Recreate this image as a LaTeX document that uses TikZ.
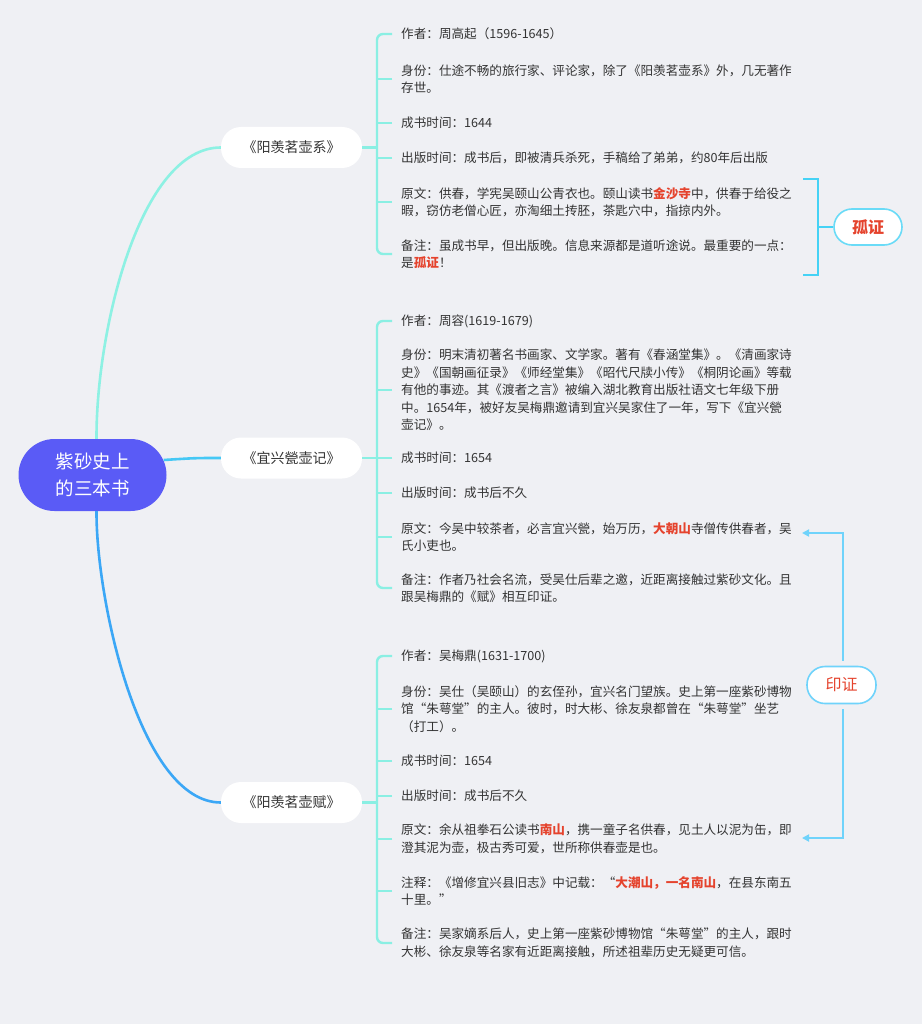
\documentclass[tikz,border=0pt]{standalone}
\usepackage{fontspec}
\setmainfont{Noto Sans CJK SC}
\usetikzlibrary{arrows.meta}
\definecolor{bgc}{HTML}{EFF0F4}
\definecolor{txtc}{HTML}{333333}
\definecolor{ctrc}{HTML}{5A5BF6}
\definecolor{topc}{HTML}{8DF1E3}
\definecolor{midc}{HTML}{45C8F5}
\definecolor{botc}{HTML}{3BA7F6}
\definecolor{brkc}{HTML}{8AEFE3}
\definecolor{gzc}{HTML}{45D2F5}
\definecolor{yzc}{HTML}{6FD3FB}
\definecolor{redc}{HTML}{E5432D}
\newcommand\redb[1]{\textcolor{redc}{\bfseries #1}}
\begin{document}
\begin{tikzpicture}[x=1pt,y=-1pt,
  txt/.style={anchor=west,align=left,inner sep=0pt,text=txtc,font=\fontsize{12.6}{17.5}\selectfont},
  book/.style={fill=white,rounded corners=20pt,minimum width=141pt,minimum height=41pt,inner sep=0pt,text=txtc,font=\fontsize{14}{16}\selectfont},
  brk/.style={draw=brkc,line width=2.4pt,rounded corners=6pt},
  tag/.style={fill=white,rounded corners=18pt,minimum width=68pt,minimum height=36pt,inner sep=0pt,line width=1.6pt},
  arr/.style={draw=yzc,line width=2.2pt,-{Triangle[length=7pt,width=7pt]}}
]
\useasboundingbox[fill=bgc] (0,0) rectangle (922,1024);

% central node
\node[fill=ctrc,rounded corners=36pt,minimum width=148pt,minimum height=72pt,inner sep=0pt,
  text=white,align=center,font=\fontsize{18.5}{27}\selectfont] (ctr) at (92.5,475) {紫砂史上\\的三本书};

% book nodes
\node[book] (b1) at (291.5,147.5) {《阳羡茗壶系》};
\node[book] (b2) at (291.5,458) {《宜兴甇壶记》};
\node[book] (b3) at (291.5,802.5) {《阳羡茗壶赋》};

% main branches
\draw[draw=topc,line width=2.6pt] ([xshift=4pt]ctr.north) .. controls (96,330) and (140,147.5) .. (b1.west);
\draw[draw=midc,line width=2.6pt] ([shift={(-3pt,15pt)}]ctr.east) .. controls (195,458) .. (b2.west);
\draw[draw=botc,line width=2.6pt] ([xshift=4pt]ctr.south) .. controls (96,600) and (140,802.5) .. (b3.west);

% group 1
\node[txt] (g1a) at (401,34) {作者：周高起（1596-1645）};
\node[txt] (g1b) at (401,79) {身份：仕途不畅的旅行家、评论家，除了《阳羡茗壶系》外，几无著作\\存世。};
\node[txt] (g1c) at (401,123) {成书时间：1644};
\node[txt] (g1d) at (401,158) {出版时间：成书后，即被清兵杀死，手稿给了弟弟，约80年后出版};
\node[txt] (g1e) at (401,202) {原文：供春，学宪吴颐山公青衣也。颐山读书\redb{金沙寺}中，供春于给役之\\暇，窃仿老僧心匠，亦淘细土抟胚，茶匙穴中，指掠内外。};
\node[txt] (g1f) at (401,254) {备注：虽成书早，但出版晚。信息来源都是道听途说。最重要的一点：\\是\redb{孤证}！};
\draw[brk] ([xshift=-9pt]g1a.west) -- ++(-15pt,0) |- ([xshift=-9pt]g1f.west);
\foreach \n in {g1b,g1c,g1d,g1e} \draw[brk] ([xshift=-9pt]\n.west) -- ++(-16pt,0);
\draw[brk] (b1.east) -- (377,147.5);

% group 2
\node[txt] (g2a) at (401,321) {作者：周容(1619-1679)};
\node[txt] (g2b) at (401,390) {身份：明末清初著名书画家、文学家。著有《春涵堂集》。《清画家诗\\史》《国朝画征录》《师经堂集》《昭代尺牍小传》《桐阴论画》等载\\有他的事迹。其《渡者之言》被编入湖北教育出版社语文七年级下册\\中。1654年，被好友吴梅鼎邀请到宜兴吴家住了一年，写下《宜兴甇\\壶记》。};
\node[txt] (g2c) at (401,458) {成书时间：1654};
\node[txt] (g2d) at (401,493) {出版时间：成书后不久};
\node[txt] (g2e) at (401,537) {原文：今吴中较茶者，必言宜兴甇，始万历，\redb{大朝山}寺僧传供春者，吴\\氏小吏也。};
\node[txt] (g2f) at (401,588) {备注：作者乃社会名流，受吴仕后辈之邀，近距离接触过紫砂文化。且\\跟吴梅鼎的《赋》相互印证。};
\draw[brk] ([xshift=-9pt]g2a.west) -- ++(-15pt,0) |- ([xshift=-9pt]g2f.west);
\foreach \n in {g2b,g2c,g2d,g2e} \draw[brk] ([xshift=-9pt]\n.west) -- ++(-16pt,0);
\draw[brk] (b2.east) -- (377,458);

% group 3
\node[txt] (g3a) at (401,656) {作者：吴梅鼎(1631-1700)};
\node[txt] (g3b) at (401,709) {身份：吴仕（吴颐山）的玄侄孙，宜兴名门望族。史上第一座紫砂博物\\馆“朱萼堂”的主人。彼时，时大彬、徐友泉都曾在“朱萼堂”坐艺\\（打工）。};
\node[txt] (g3c) at (401,761) {成书时间：1654};
\node[txt] (g3d) at (401,796) {出版时间：成书后不久};
\node[txt] (g3e) at (401,839) {原文：余从祖拳石公读书\redb{南山}，携一童子名供春，见土人以泥为缶，即\\澄其泥为壶，极古秀可爱，世所称供春壶是也。};
\node[txt] (g3f) at (401,891) {注释：《增修宜兴县旧志》中记载：“\redb{大潮山，一名南山}，在县东南五\\十里。”};
\node[txt] (g3g) at (401,943) {备注：吴家嫡系后人，史上第一座紫砂博物馆“朱萼堂”的主人，跟时\\大彬、徐友泉等名家有近距离接触，所述祖辈历史无疑更可信。};
\draw[brk] ([xshift=-9pt]g3a.west) -- ++(-15pt,0) |- ([xshift=-9pt]g3g.west);
\foreach \n in {g3b,g3c,g3d,g3e,g3f} \draw[brk] ([xshift=-9pt]\n.west) -- ++(-16pt,0);
\draw[brk] (b3.east) -- (377,802.5);

% 孤证
\node[tag,draw=gzc!80,text=redc,font=\fontsize{16}{18}\selectfont\bfseries] (gz) at (868,227) {孤证};
\coordinate (gzt) at (803,179);
\coordinate (gzb) at (803,275);
\draw[draw=gzc,line width=2.4pt] (gzt) -- (818,179) -- (818,275) -- (gzb);
\draw[draw=gzc,line width=2.4pt] (818,227) -- (gz.west);

% 印证
\node[tag,draw=yzc,text=redc,font=\fontsize{16}{18}\selectfont,minimum width=69pt,minimum height=37pt] (yz) at (841.5,685) {印证};
\coordinate (a1) at (802,533);
\coordinate (a2) at (802,838);
\draw[arr] ([shift={(1.5pt,5pt)}]yz.north) |- (a1);
\draw[arr] ([shift={(1.5pt,-5pt)}]yz.south) |- (a2);
\end{tikzpicture}
\end{document}
